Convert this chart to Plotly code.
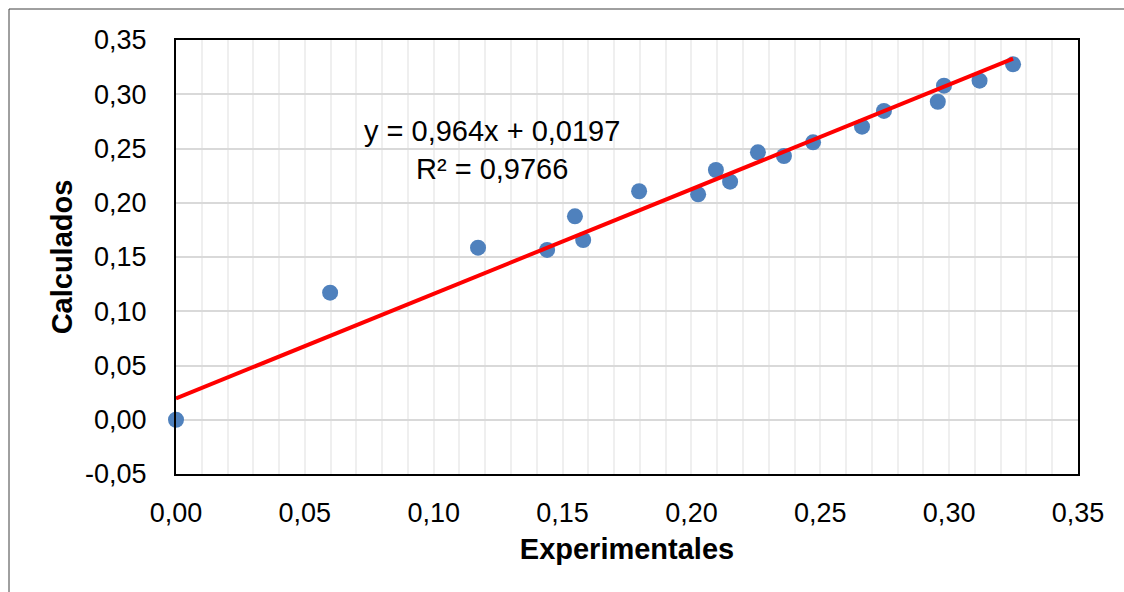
import plotly.graph_objects as go

# Data
experimentales = [0.0, 0.0598, 0.1172, 0.1440, 0.1548, 0.1580, 0.1797, 0.2026, 0.2095,
                  0.2150, 0.2258, 0.2359, 0.2472, 0.2662, 0.2747, 0.2956, 0.2980,
                  0.3118, 0.3248]
calculados = [0.0, 0.1171, 0.1586, 0.1565, 0.1875, 0.1657, 0.2106, 0.2078, 0.2302,
              0.2194, 0.2465, 0.2431, 0.2557, 0.2701, 0.2846, 0.2931, 0.3079,
              0.3125, 0.3276]

slope = 0.964
intercept = 0.0197
equation_text = "y = 0,964x + 0,0197<br>R² = 0,9766"

x_tick_vals = [0.0, 0.05, 0.10, 0.15, 0.20, 0.25, 0.30, 0.35]
x_tick_text = ["0,00", "0,05", "0,10", "0,15", "0,20", "0,25", "0,30", "0,35"]
y_tick_vals = [-0.05, 0.0, 0.05, 0.10, 0.15, 0.20, 0.25, 0.30, 0.35]
y_tick_text = ["-0,05", "0,00", "0,05", "0,10", "0,15", "0,20", "0,25", "0,30", "0,35"]

trend_x = [min(experimentales), max(experimentales)]
trend_y = [slope * v + intercept for v in trend_x]

FONT = "Liberation Sans, Arial, sans-serif"

fig = go.Figure()
fig.add_trace(go.Scatter(
    x=experimentales, y=calculados, mode="markers",
    marker=dict(size=16, color="#4F81BD"), cliponaxis=False,
    showlegend=False, hoverinfo="skip"))
fig.add_trace(go.Scatter(
    x=trend_x, y=trend_y, mode="lines",
    line=dict(color="#FF0000", width=4), cliponaxis=False,
    showlegend=False, hoverinfo="skip"))

fig.update_layout(
    width=1124, height=592,
    margin=dict(l=176, r=46, t=40, b=118),
    paper_bgcolor="white", plot_bgcolor="white",
    font=dict(family=FONT, size=27, color="#000000"),
    xaxis=dict(
        range=[0, 0.35], tickvals=x_tick_vals, ticktext=x_tick_text,
        showgrid=True, gridcolor="#EFEFEF", gridwidth=2,
        minor=dict(dtick=0.01, showgrid=True, gridcolor="#EFEFEF", gridwidth=2),
        showline=True, linecolor="black", linewidth=2, mirror=True,
        zeroline=False, ticks="", ticklabelstandoff=14,
        title=dict(text="<b>Experimentales</b>", font=dict(size=29), standoff=11),
    ),
    yaxis=dict(
        range=[-0.05, 0.35], tickvals=y_tick_vals, ticktext=y_tick_text,
        showgrid=True, gridcolor="#D9D9D9", gridwidth=1.5,
        showline=True, linecolor="black", linewidth=2, mirror=True,
        zeroline=False, ticks="", ticklabelstandoff=22,
        title=dict(text="<b>Calculados</b>", font=dict(size=29), standoff=4),
    ),
    annotations=[dict(
        x=0.1226, y=0.2482, xref="x", yref="y", text=equation_text,
        showarrow=False, align="center", font=dict(size=29, color="#000000"))],
    shapes=[dict(
        type="rect", xref="paper", yref="paper",
        x0=(9 - 176) / 902, x1=(1140 - 176) / 902,
        y0=(474 - 610) / 434, y1=(474 - 9) / 434,
        line=dict(color="#404040", width=1), fillcolor="rgba(0,0,0,0)", layer="below")],
)

fig.write_html("out.html")
